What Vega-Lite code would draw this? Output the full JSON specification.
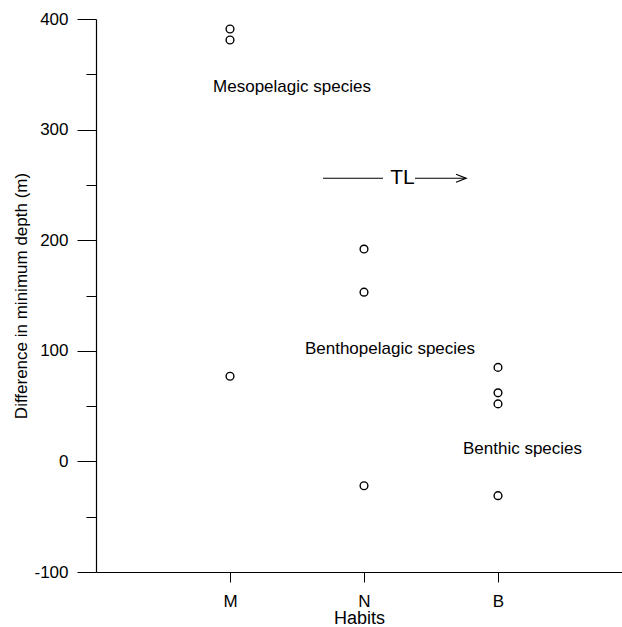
{
  "$schema": "https://vega.github.io/schema/vega-lite/v6.json",
  "width": 526,
  "height": 553,
  "autosize": {"type": "none"},
  "padding": {"left": 96, "top": 19, "right": 0, "bottom": 55},
  "background": "white",
  "config": {
    "view": {"stroke": null},
    "font": "Liberation Sans",
    "axis": {
      "domainColor": "black",
      "tickColor": "black",
      "labelColor": "black",
      "titleColor": "black",
      "labelFont": "Liberation Sans",
      "titleFont": "Liberation Sans",
      "labelFontSize": 17,
      "titleFontSize": 17,
      "titleFontWeight": "normal",
      "grid": false,
      "domainWidth": 1.2,
      "tickWidth": 1
    }
  },
  "datasets": {
    "points": [
      {"habit": "M", "depth": 391},
      {"habit": "M", "depth": 381},
      {"habit": "M", "depth": 77},
      {"habit": "N", "depth": 192},
      {"habit": "N", "depth": 153},
      {"habit": "N", "depth": -22},
      {"habit": "B", "depth": 85},
      {"habit": "B", "depth": 62},
      {"habit": "B", "depth": 52},
      {"habit": "B", "depth": -31}
    ],
    "notes": [
      {"note": "Mesopelagic species", "habit": "M", "depth": 338.5},
      {"note": "Benthopelagic species", "habit": "N", "depth": 101.5},
      {"note": "Benthic species", "habit": "B", "depth": 11},
      {"note": "TL", "habit": "N", "depth": 256}
    ]
  },
  "layer": [
    {
      "data": {"name": "points"},
      "mark": {"type": "point", "shape": "circle", "filled": false, "color": "black", "strokeWidth": 1.4, "size": 60, "opacity": 1},
      "encoding": {
        "x": {
          "field": "habit", "type": "ordinal",
          "sort": ["M", "N", "B"],
          "scale": {"type": "point", "domain": ["M", "N", "B"], "padding": 0.9627, "align": 0.5194},
          "axis": {"title": "Habits", "titleFontSize": 18, "labelAngle": 0, "tickSize": 10, "labelPadding": 11, "titlePadding": 0}
        },
        "y": {
          "field": "depth", "type": "quantitative",
          "scale": {"domain": [-100, 400], "nice": false, "zero": false},
          "axis": {
            "title": "Difference in minimum depth (m)",
            "values": [-100, -50, 0, 50, 100, 150, 200, 250, 300, 350, 400],
            "labelExpr": "datum.value % 100 === 0 ? '' + datum.value : ''",
            "tickSize": {"condition": {"test": "datum.value % 100 === 0", "value": 19}, "value": 10},
            "labelPadding": 9,
            "titlePadding": 3
          }
        }
      }
    },
    {
      "data": {"name": "notes"},
      "transform": [{"filter": "datum.note === 'Mesopelagic species'"}],
      "mark": {"type": "text", "dx": 62, "fontSize": 17, "color": "black", "align": "center", "baseline": "middle"},
      "encoding": {
        "x": {"field": "habit", "type": "ordinal"},
        "y": {"field": "depth", "type": "quantitative"},
        "text": {"field": "note"}
      }
    },
    {
      "data": {"name": "notes"},
      "transform": [{"filter": "datum.note === 'Benthopelagic species'"}],
      "mark": {"type": "text", "dx": 26, "fontSize": 17, "color": "black", "align": "center", "baseline": "middle"},
      "encoding": {
        "x": {"field": "habit", "type": "ordinal"},
        "y": {"field": "depth", "type": "quantitative"},
        "text": {"field": "note"}
      }
    },
    {
      "data": {"name": "notes"},
      "transform": [{"filter": "datum.note === 'Benthic species'"}],
      "mark": {"type": "text", "dx": 24.5, "fontSize": 17, "color": "black", "align": "center", "baseline": "middle"},
      "encoding": {
        "x": {"field": "habit", "type": "ordinal"},
        "y": {"field": "depth", "type": "quantitative"},
        "text": {"field": "note"}
      }
    },
    {
      "data": {"name": "notes"},
      "transform": [{"filter": "datum.note === 'TL'"}],
      "mark": {"type": "text", "dx": 38.5, "fontSize": 21, "color": "black", "align": "center", "baseline": "middle"},
      "encoding": {
        "x": {"field": "habit", "type": "ordinal"},
        "y": {"field": "depth", "type": "quantitative"},
        "text": {"field": "note"}
      }
    },
    {
      "data": {"name": "notes"},
      "transform": [{"filter": "datum.note === 'TL'"}],
      "mark": {"type": "rule", "color": "black", "strokeWidth": 1, "xOffset": -41, "x2Offset": 19},
      "encoding": {
        "x": {"field": "habit", "type": "ordinal"},
        "x2": {"field": "habit"},
        "y": {"field": "depth", "type": "quantitative"}
      }
    },
    {
      "data": {"name": "notes"},
      "transform": [{"filter": "datum.note === 'TL'"}],
      "mark": {"type": "rule", "color": "black", "strokeWidth": 1, "xOffset": 51, "x2Offset": 102},
      "encoding": {
        "x": {"field": "habit", "type": "ordinal"},
        "x2": {"field": "habit"},
        "y": {"field": "depth", "type": "quantitative"}
      }
    },
    {
      "data": {"name": "notes"},
      "transform": [{"filter": "datum.note === 'TL'"}],
      "mark": {"type": "point", "shape": "M-1,-0.4L0,0L-1,0.4", "filled": false, "color": "black", "strokeWidth": 1.3, "size": 400, "opacity": 1, "xOffset": 102},
      "encoding": {
        "x": {"field": "habit", "type": "ordinal"},
        "y": {"field": "depth", "type": "quantitative"}
      }
    }
  ]
}
